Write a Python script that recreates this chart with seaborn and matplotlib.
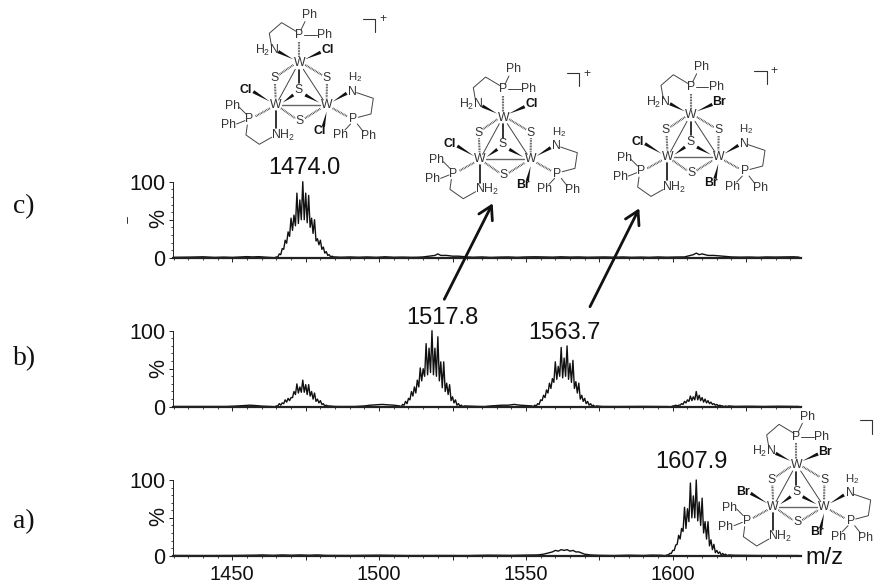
import pandas as pd
import matplotlib
matplotlib.use('Agg')
import matplotlib.pyplot as plt
import seaborn as sns

# panel c) isotope envelopes (top of each spike, valley before it)
c_main_mz = [1465, 1466, 1467, 1468, 1469, 1470, 1471, 1472, 1473, 1474, 1475, 1476, 1477, 1478, 1479, 1480, 1481, 1482, 1483, 1484, 1485]
c_main_top = [1, 5, 12, 23, 34, 52, 56, 85, 76, 100, 85, 82, 52, 50, 25, 23, 14, 8, 4, 2, 1]
c_main_low = [0, 1, 4, 11, 19, 28, 36, 42, 45, 50, 50, 46, 40, 32, 22, 17, 11, 6, 3, 1, 1]
c_small_mz = [1515, 1517, 1519, 1520, 1521, 1523, 1525, 1527, 1530, 1604, 1606, 1607, 1608, 1609, 1610, 1612, 1614, 1617, 1620]
c_small_top = [1, 2, 3, 5, 3, 3, 2, 2, 1, 1, 3, 4, 6, 4, 5, 3, 3, 2, 1]
c_base_mz = [1430, 1436, 1440, 1444, 1447, 1450, 1453, 1455, 1457, 1459, 1461, 1463, 1487, 1490, 1493, 1496, 1499, 1502, 1505, 1508, 1511, 1513, 1532, 1535, 1538, 1541, 1544, 1547, 1550, 1553, 1556, 1559, 1562, 1565, 1568, 1571, 1574, 1577, 1580, 1583, 1586, 1589, 1592, 1595, 1598, 1601, 1623, 1626, 1629, 1632, 1635, 1638, 1641, 1643]
c_base_pct = [0.5, 0.8, 1.2, 0.4, 0.8, 0.4, 1.0, 1.4, 1.0, 1.4, 0.8, 0.3, 0.6, 1.0, 0.6, 1.0, 0.5, 1.2, 0.6, 0.8, 0.5, 0.6, 0.6, 1.0, 0.4, 0.8, 1.0, 0.5, 1.0, 1.2, 1.0, 0.7, 1.2, 0.8, 1.0, 0.6, 0.8, 1.0, 0.6, 1.0, 0.5, 0.8, 0.5, 1.0, 0.6, 0.9, 0.7, 0.9, 0.5, 1.0, 0.8, 1.0, 1.2, 0.8]

# panel b)
b_1474_mz = [1465, 1466, 1467, 1468, 1469, 1470, 1471, 1472, 1473, 1474, 1475, 1476, 1477, 1478, 1479, 1480, 1481, 1482, 1483]
b_1474_top = [1, 4, 5, 9, 11, 12, 20, 30, 26, 35, 29, 29, 20, 18, 10, 8, 4, 2, 1]
b_1474_low = [0, 1, 2, 4, 6, 8, 12, 16, 18, 19, 19, 16, 14, 10, 7, 5, 3, 1, 1]
b_1518_mz = [1508, 1509, 1510, 1511, 1512, 1513, 1514, 1515, 1516, 1517, 1518, 1519, 1520, 1521, 1522, 1523, 1524, 1525, 1526, 1527, 1528, 1529]
b_1518_top = [3, 7, 11, 20, 26, 35, 51, 50, 83, 77, 100, 77, 92, 59, 59, 31, 29, 13, 9, 4, 2, 1]
b_1518_low = [0, 2, 4, 9, 14, 18, 26, 34, 40, 42, 45, 42, 40, 34, 25, 20, 16, 8, 5, 2, 1, 0]
b_1564_mz = [1553, 1554, 1555, 1556, 1557, 1558, 1559, 1560, 1561, 1562, 1563, 1564, 1565, 1566, 1567, 1568, 1569, 1570, 1571, 1572, 1573, 1574]
b_1564_top = [2, 4, 9, 15, 22, 31, 37, 59, 53, 78, 64, 80, 57, 61, 33, 31, 15, 11, 7, 4, 2, 1]
b_1564_low = [0, 1, 3, 8, 12, 18, 24, 32, 36, 40, 38, 40, 36, 32, 24, 18, 10, 7, 4, 2, 1, 0]
b_1608_mz = [1600, 1601, 1602, 1603, 1604, 1605, 1606, 1607, 1608, 1609, 1610, 1611, 1612, 1613, 1614, 1615, 1616, 1617, 1618, 1619]
b_1608_top = [1, 2, 2, 4, 7, 9, 14, 13, 20, 15, 12, 10, 8, 6, 4, 3, 2, 1, 1, 1]
b_1608_low = [0, 1, 1, 2, 3, 5, 7, 8, 9, 9, 8, 6, 5, 4, 3, 2, 1, 1, 0, 0]
b_small_mz = [1452, 1454, 1456, 1458, 1460, 1495, 1497, 1499, 1501, 1503, 1505, 1507, 1538, 1540, 1542, 1544, 1546, 1548, 1550, 1552]
b_small_top = [1, 1.5, 2, 1.5, 0.8, 1, 2, 2.5, 3, 2.5, 2, 1, 1, 1.5, 2, 2, 3, 2, 1.5, 1]
b_base_mz = [1430, 1436, 1442, 1448, 1463, 1485, 1489, 1492, 1534, 1536, 1576, 1580, 1585, 1590, 1595, 1598, 1621, 1626, 1631, 1636, 1643]
b_base_pct = [0.3, 0.3, 0.2, 0.3, 0.3, 0.3, 0.2, 0.3, 0.3, 0.2, 0.3, 0.2, 0.3, 0.4, 0.3, 0.2, 0.4, 0.6, 0.3, 0.6, 0.3]

# panel a)
a_1608_mz = [1598, 1599, 1600, 1601, 1602, 1603, 1604, 1605, 1606, 1607, 1608, 1609, 1610, 1611, 1612, 1613, 1614, 1615, 1616, 1617, 1618, 1619]
a_1608_top = [1, 3, 7, 14, 27, 36, 64, 62, 96, 79, 100, 71, 76, 45, 45, 21, 15, 7, 5, 3, 2, 1]
a_1608_low = [0, 1, 3, 7, 15, 22, 32, 36, 45, 50, 50, 46, 40, 30, 22, 13, 8, 4, 3, 1, 1, 0]
a_small_mz = [1554, 1556, 1558, 1559, 1560, 1561, 1562, 1563, 1564, 1565, 1566, 1567, 1568, 1570, 1572]
a_small_top = [1, 2, 4, 5, 7, 6, 8, 7, 8, 6, 7, 5, 5, 2, 1]
a_base_mz = [1430, 1440, 1450, 1458, 1460, 1464, 1467, 1470, 1473, 1476, 1479, 1482, 1490, 1500, 1510, 1520, 1530, 1537, 1545, 1550, 1575, 1580, 1585, 1590, 1593, 1596, 1621, 1630, 1643]
a_base_pct = [0.3, 0.2, 0.3, 0.7, 1.0, 0.5, 1.0, 0.6, 1.0, 0.6, 1.0, 0.4, 0.3, 0.7, 0.2, 0.3, 0.2, 0.7, 0.4, 0.8, 0.5, 0.2, 0.7, 0.3, 0.8, 0.6, 0.6, 0.2, 0.2]

# tick labels and text
x_tick_labels = ['1450', '', '1500', '', '1550', '', '1600', '']
panel_names = ['c)', 'b)', 'a)']
peak_labels = ['1474.0', '1517.8', '1563.7', '1607.9']


def spikes(mz, top, low):
    # each spike goes valley -> top, valley half a unit before
    rows = []
    for m, t, l in zip(mz, top, low):
        rows.append((m - 0.5, l))
        rows.append((m, t))
    return rows


def spectrum(*parts):
    rows = []
    for p in parts:
        rows += p
    return pd.DataFrame(rows, columns=['mz', 'pct']).sort_values('mz')


df_c = spectrum(spikes(c_main_mz, c_main_top, c_main_low),
                list(zip(c_small_mz, c_small_top)), list(zip(c_base_mz, c_base_pct)))
df_b = spectrum(spikes(b_1474_mz, b_1474_top, b_1474_low), spikes(b_1518_mz, b_1518_top, b_1518_low),
                spikes(b_1564_mz, b_1564_top, b_1564_low), spikes(b_1608_mz, b_1608_top, b_1608_low),
                list(zip(b_small_mz, b_small_top)), list(zip(b_base_mz, b_base_pct)))
df_a = spectrum(spikes(a_1608_mz, a_1608_top, a_1608_low),
                list(zip(a_small_mz, a_small_top)), list(zip(a_base_mz, a_base_pct)))

sns.set_style('ticks')
plt.rcParams['font.family'] = ['Liberation Sans', 'DejaVu Sans']
plt.rcParams['mathtext.default'] = 'regular'

W, H = 877, 583
fig = plt.figure(figsize=(W / 100, H / 100), dpi=100)
fig.patch.set_facecolor('white')

# (frame of 100 line, frame of 0 line) in pixels
panels = [(df_c, 181.7, 257.7), (df_b, 330.7, 406.7), (df_a, 480.0, 555.7)]
left, right = 172.7, 800.5
for i, (d, y100, y0) in enumerate(panels):
    ax = fig.add_axes([left / W, 1 - y0 / H, (right - left) / W, (y0 - y100) / H])
    sns.lineplot(data=d, x='mz', y='pct', color='#111111', linewidth=1.0, estimator=None, ax=ax, clip_on=False)
    ax.set_xlim(1429.7, 1643.5)
    ax.set_ylim(0, 100)
    sns.despine(ax=ax)
    ax.patch.set_alpha(0)
    ax.set_xlabel('')
    ax.set_ylabel('')
    ax.spines['left'].set_linewidth(0.7)
    ax.spines['bottom'].set_linewidth(1.6)
    ax.spines['bottom'].set_color('#222222')
    ax.spines['left'].set_color('#222222')
    ax.set_xticks([1450, 1475, 1500, 1525, 1550, 1575, 1600, 1625])
    ax.set_xticks(range(1430, 1645, 5), minor=True)
    if i == 2:
        ax.set_xticklabels(x_tick_labels, fontsize=14.5)
    else:
        ax.set_xticklabels([''] * 8)
    ax.set_yticks([0, 50, 100])
    ax.set_yticklabels(['0', '', '100'], fontsize=15.5)
    ax.set_yticks(range(0, 101, 10), minor=True)
    ax.tick_params(axis='x', which='major', length=3.2, width=0.7, pad=3.5, color='#222222', labelcolor='#111111')
    ax.tick_params(axis='x', which='minor', length=1.6, width=0.6, color='#222222')
    ax.tick_params(axis='y', which='major', length=3.0, width=0.7, pad=2.5, color='#222222', labelcolor='#111111')
    ax.tick_params(axis='y', which='minor', length=1.5, width=0.6, color='#222222')

# overlay in pixel coordinates for the annotations
ov = fig.add_axes([0, 0, 1, 1], zorder=5)
ov.set_xlim(0, W)
ov.set_ylim(H, 0)
ov.axis('off')
ov.patch.set_alpha(0)

for name, y, in zip(panel_names, [207, 359, 522]):
    ov.text(13, y, name, family='Liberation Serif', fontsize=20, va='center', ha='left', color='#111111')
for y in [219, 368, 517]:
    ov.text(159, y, '%', rotation=90, fontsize=15.5, ha='center', va='center', color='#111111')
ov.plot([126.7, 126.7], [217, 223], color='#333333', lw=0.7)

for lab, x, y in zip(peak_labels, [304, 442, 564, 691], [168, 318, 333, 462]):
    ov.text(x, y, lab, fontsize=17, ha='center', va='center', color='#111111')
ov.text(824, 558, 'm/z', fontsize=17, ha='center', va='center', color='#111111')


def arrow(x0, y0, x1, y1):
    ov.annotate('', xy=(x1, y1), xytext=(x0, y0),
                arrowprops=dict(arrowstyle='->,head_length=0.55,head_width=0.32', lw=2.0, color='#111111',
                                shrinkA=0, shrinkB=0, mutation_scale=17))


arrow(444.3, 299.3, 492.7, 203.3)
arrow(590, 306.7, 639.3, 208.3)


def cluster(ox, oy, top_x, left_x, bottom_x, plus=True):
    # template measured relative to the upper W atom, in 1/3 pixels
    def px(p):
        return ox + p[0] / 3, oy + p[1] / 3

    def line(pts, lw=0.7, color='#444444'):
        xy = [px(p) for p in pts]
        ov.plot([q[0] for q in xy], [q[1] for q in xy], color=color, lw=lw, solid_capstyle='round')

    def hashed(a, b):
        xy = [px(a), px(b)]
        ov.plot([q[0] for q in xy], [q[1] for q in xy], color='#333333', lw=1.5, linestyle=(0, (0.35, 0.4)))

    def wedge(a, b, w=5.0):
        # narrow at a, wide at b
        (ax_, ay_), (bx_, by_) = px(a), px(b)
        dx, dy = bx_ - ax_, by_ - ay_
        n = (dx ** 2 + dy ** 2) ** 0.5
        nx, ny = -dy / n * w / 3, dx / n * w / 3
        ov.fill([ax_, bx_ + nx, bx_ - nx], [ay_, by_ + ny, by_ - ny], color='#111111', lw=0)

    def label(p, s, bold=False, size=8.8):
        x, y = px(p)
        ov.text(x, y, s, fontsize=size, ha='center', va='center', color='#111111' if bold else '#333333',
                weight='bold' if bold else 'normal')

    # plain bonds
    line([(-8, -95), (-53, -122), (-90, -90), (-83, -50)])
    line([(5, -100), (17, -125)])
    line([(14, -85), (52, -85)])
    line([(-12, 18), (-62, 110)])
    line([(12, 18), (72, 110)])
    line([(-52, 125), (62, 125)], lw=1.0, color='#666666')
    line([(172, 88), (222, 105), (215, 152), (177, 162)])
    line([(154, 182), (137, 200)])
    line([(174, 182), (192, 205)])
    line([(-156, 185), (-160, 215), (-120, 243), (-83, 222)])
    line([(-180, 132), (-160, 152)])
    line([(-188, 182), (-163, 172)])
    # bold bonds
    line([(-71, 143), (-71, 195)], lw=1.2, color='#111111')
    line([(-1, 20), (-1, 60)], lw=1.2, color='#111111')
    wedge((-18, -12), (-63, -35))
    wedge((17, -12), (64, -33))
    wedge((-88, 115), (-138, 85))
    wedge((100, 115), (142, 90))
    wedge((82, 145), (72, 190))
    wedge((-50, 118), (-18, 95))
    wedge((60, 118), (18, 95))
    # hashed bonds
    hashed((-1, -65), (-1, -18))
    hashed((-18, 5), (-62, 35))
    hashed((18, 5), (68, 35))
    hashed((-73, 62), (-71, 105))
    hashed((83, 62), (82, 105))
    hashed((-88, 135), (-133, 160))
    hashed((100, 135), (145, 160))
    hashed((-55, 135), (-12, 165))
    hashed((17, 165), (65, 135))
    # atoms
    label((0, 0), 'W')
    label((-71, 125), 'W')
    label((82, 125), 'W')
    label((-75, 45), 'S')
    label((83, 45), 'S')
    label((-1, 80), 'S')
    label((2, 172), 'S')
    label((-1, -85), 'P')
    label((-150, 168), 'P')
    label((162, 168), 'P')
    label((32, -145), 'Ph')
    label((75, -85), 'Ph')
    label((-201, 128), 'Ph')
    label((-213, 185), 'Ph')
    label((124, 215), 'Ph')
    label((207, 218), 'Ph')
    label((-98, -40), 'H$_2$N')
    label((-50, 215), 'NH$_2$')
    label((167, 42), 'H$_2$', size=8.2)
    label((160, 85), 'N')
    label((85, -40), top_x, True)
    label((-160, 80), left_x, True)
    label((60, 202), bottom_x, True)
    # charge bracket
    line([(190, -134), (227, -134), (227, -94)], lw=0.8, color='#333333')
    if plus:
        label((250, -132), '+')


cluster(299.3, 63.3, 'Cl', 'Cl', 'Cl')
cluster(503.3, 117.7, 'Cl', 'Cl', 'Br')
cluster(691.0, 115.4, 'Br', 'Cl', 'Br')
cluster(796.7, 465.0, 'Br', 'Br', 'Br', plus=False)

plt.savefig('out.png', dpi=100)
